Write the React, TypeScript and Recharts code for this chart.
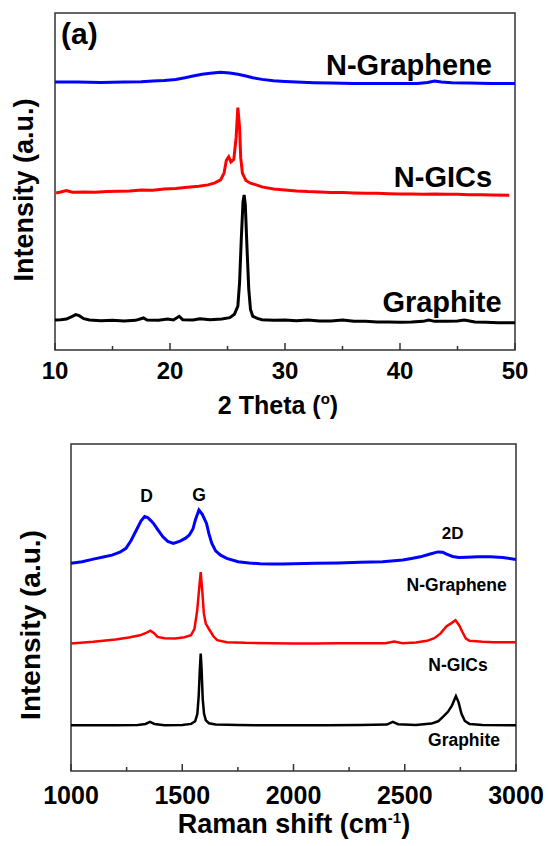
import { LineChart, Line, XAxis, YAxis, ReferenceArea } from "recharts";

// XRD patterns, [2theta, intensity a.u.]
const xrdGraphene: [number, number][] = [
  [10.0, 79.5], [12.0, 79.5], [14.0, 79.4], [16.0, 79.5], [17.5, 79.6], [18.5, 79.8],
  [19.5, 80.0], [20.5, 80.3], [21.3, 80.8], [22.0, 81.3], [22.8, 81.8], [23.5, 82.1],
  [24.4, 82.4], [25.2, 82.2], [25.9, 81.8], [26.6, 81.3], [27.2, 80.8], [28.0, 80.3],
  [29.0, 79.9], [30.0, 79.7], [31.0, 79.5], [32.5, 79.3], [34.0, 79.2], [36.0, 79.1],
  [38.0, 79.1], [40.0, 79.1], [41.5, 79.1], [42.4, 79.4], [43.0, 79.8], [43.6, 79.5],
  [44.5, 79.3], [46.0, 79.2], [48.0, 79.1], [50.0, 79.1],
];
const xrdGICs: [number, number][] = [
  [10.1, 46.6], [10.5, 46.9], [11.0, 47.3], [11.5, 46.8], [12.5, 46.9], [13.5, 46.8],
  [14.5, 47.0], [15.5, 47.1], [16.5, 47.2], [17.5, 47.5], [18.5, 47.4], [19.5, 47.8],
  [20.5, 47.9], [21.5, 48.3], [22.5, 48.6], [23.3, 49.0], [23.9, 49.6], [24.4, 50.5],
  [24.7, 52.5], [24.9, 56.3], [25.1, 57.3], [25.3, 55.8], [25.55, 56.6], [25.75, 63],
  [25.9, 71.9], [26.05, 66], [26.15, 57], [26.3, 52.4], [26.6, 50.3], [27.0, 49.5],
  [27.5, 49.0], [28.0, 48.4], [29.0, 47.8], [30.0, 47.5], [31.0, 47.2], [32.0, 47.0],
  [33.0, 46.9], [34.0, 46.7], [35.0, 46.7], [36.0, 46.6], [37.0, 46.5], [38.0, 46.5],
  [39.0, 46.4], [40.0, 46.3], [41.0, 46.3], [42.0, 46.2], [43.0, 46.3], [44.0, 46.2],
  [45.0, 46.2], [46.0, 46.1], [47.0, 46.1], [48.0, 46.0], [49.5, 45.9],
];
const xrdGraphite: [number, number][] = [
  [10.0, 8.9], [10.5, 9.0], [11.0, 9.2], [11.5, 10.0], [11.8, 10.5], [12.1, 10.2],
  [12.5, 9.3], [13.0, 8.9], [14.0, 8.7], [15.0, 8.8], [16.0, 8.6], [17.0, 8.8],
  [17.7, 9.5], [18.0, 8.9], [19.0, 8.8], [19.8, 9.2], [20.3, 8.9], [20.8, 10.0],
  [21.1, 9.0], [22.0, 8.9], [22.6, 9.3], [23.5, 9.0], [24.5, 9.2], [25.2, 9.6],
  [25.6, 10.6], [25.9, 13], [26.05, 20], [26.2, 33], [26.35, 44], [26.45, 46],
  [26.55, 43], [26.7, 30], [26.85, 18], [27.0, 12], [27.2, 10], [27.6, 9.4],
  [28.0, 9.0], [29.0, 8.8], [30.0, 8.9], [31.0, 8.7], [32.0, 8.9], [33.0, 8.6],
  [34.0, 8.6], [35.0, 8.9], [36.0, 8.5], [37.0, 8.5], [38.0, 8.3], [39.0, 8.3],
  [40.0, 8.2], [41.0, 8.3], [42.0, 8.5], [42.5, 8.9], [43.0, 8.5], [44.0, 8.5],
  [45.0, 8.6], [45.6, 8.9], [46.5, 8.3], [47.5, 8.2], [48.5, 8.1], [50.0, 8.1],
];

// Raman spectra, [shift cm-1, intensity a.u.]
const ramanGraphene: [number, number][] = [
  [1000, 63.5], [1050, 64.0], [1100, 64.8], [1150, 65.5], [1184, 66.0], [1220, 66.9],
  [1247, 68.1], [1270, 70.5], [1294, 73.7], [1315, 76.5], [1331, 77.8], [1345, 77.5],
  [1360, 76.5], [1373, 75.5], [1393, 73.5], [1413, 71.6], [1435, 70.2], [1460, 69.6],
  [1490, 70.3], [1515, 71.2], [1531, 72.1], [1548, 74.0], [1560, 77.0], [1575, 79.8],
  [1590, 78.5], [1609, 75.7], [1620, 72.5], [1633, 69.6], [1650, 67.3], [1672, 66.0],
  [1700, 65.0], [1751, 64.0], [1800, 63.6], [1850, 63.4], [1900, 63.3], [1950, 63.3],
  [2000, 63.4], [2100, 63.5], [2200, 63.6], [2300, 63.8], [2400, 64.0], [2491, 64.5],
  [2530, 65.0], [2570, 65.5], [2610, 66.3], [2649, 67.0], [2670, 66.9], [2688, 66.3],
  [2715, 65.6], [2743, 65.3], [2780, 65.4], [2830, 65.5], [2885, 65.5], [2940, 65.3],
  [3000, 64.7],
];
const ramanGICs: [number, number][] = [
  [1000, 39.0], [1100, 39.5], [1200, 40.2], [1260, 40.8], [1310, 41.5], [1340, 42.3],
  [1357, 42.9], [1372, 42.2], [1389, 41.0], [1420, 40.6], [1468, 40.5], [1510, 40.9],
  [1539, 41.5], [1555, 43.5], [1567, 49], [1575, 55], [1583, 60.8], [1590, 55],
  [1597, 48.2], [1606, 45], [1622, 43.2], [1640, 41.2], [1657, 40.0], [1700, 39.4],
  [1783, 39.2], [1900, 39.1], [2000, 39.0], [2100, 39.0], [2200, 39.1], [2300, 39.1],
  [2413, 39.1], [2452, 39.6], [2491, 39.1], [2550, 39.3], [2600, 39.8], [2633, 40.6],
  [2660, 42.0], [2688, 44.3], [2705, 45.0], [2728, 46.1], [2745, 44.5], [2759, 42.5],
  [2775, 40.5], [2791, 39.8], [2850, 39.5], [2900, 39.4], [3000, 39.4],
];
const ramanGraphite: [number, number][] = [
  [1000, 14.0], [1100, 14.0], [1200, 14.0], [1300, 14.1], [1335, 14.4], [1355, 15.0],
  [1375, 14.4], [1420, 14.0], [1500, 14.1], [1540, 14.4], [1558, 15.2], [1568, 17.5],
  [1574, 23], [1579, 31], [1583, 35.9], [1587, 31], [1592, 22], [1598, 17.5],
  [1606, 15.5], [1620, 14.6], [1650, 14.2], [1750, 14.1], [1850, 14.0], [2000, 14.0],
  [2150, 14.0], [2300, 14.1], [2420, 14.2], [2446, 15.0], [2470, 14.3], [2550, 14.1],
  [2620, 14.5], [2650, 15.2], [2675, 16.8], [2694, 18.1], [2712, 20.0], [2730, 22.9],
  [2742, 21.0], [2755, 17.5], [2770, 15.3], [2791, 14.4], [2850, 14.1], [3000, 14.0],
];

const xrdTicks = [10, 15, 20, 25, 30, 35, 40, 45, 50];
const xrdMajor = [10, 20, 30, 40, 50];
const ramanTicks = [1000, 1250, 1500, 1750, 2000, 2250, 2500, 2750, 3000];
const ramanMajor = [1000, 1500, 2000, 2500, 3000];

const FONT = "'Liberation Sans', Arial, sans-serif";
const FRAME = "#333";

const toPts = (arr: [number, number][]) => arr.map(([x, y]) => ({ x, y }));

// inward tick marks, labels only on the major ones
function InTick(props: any) {
  const { x, y, payload, majors, fontSize, dy } = props;
  const major = majors.includes(payload.value);
  return (
    <g>
      <line x1={x} x2={x} y1={y} y2={y - (major ? 7 : 4)} stroke={FRAME} strokeWidth={1.5} />
      {major && (
        <text x={x} y={y + dy} textAnchor="middle" fontFamily={FONT} fontWeight="bold" fontSize={fontSize} fill="#000">
          {payload.value}
        </text>
      )}
    </g>
  );
}

const lbl = (size: number) => ({ fontFamily: FONT, fontWeight: "bold" as const, fontSize: size, fill: "#000" });

export default function App() {
  return (
    <div style={{ position: "absolute", left: 0, top: 0, width: 549, height: 846, background: "#fff" }}>
      {/* (a) XRD */}
      <LineChart width={549} height={420} margin={{ top: 13, right: 34, left: 55, bottom: 0 }}>
        <XAxis
          type="number"
          dataKey="x"
          domain={[10, 50]}
          ticks={xrdTicks}
          interval={0}
          allowDataOverflow
          height={70}
          axisLine={false}
          tickLine={false}
          tickSize={0}
          tickMargin={0}
          tick={(p: any) => <InTick {...p} majors={xrdMajor} fontSize={24} dy={28.5} />}
        />
        <YAxis type="number" domain={[0, 100]} hide width={0} />
        <ReferenceArea x1={10} x2={50} y1={0} y2={100} fill="none" stroke={FRAME} strokeWidth={1.5} ifOverflow="visible" />
        <Line data={toPts(xrdGraphene)} dataKey="y" type="linear" dot={false} stroke="#0000ff" strokeWidth={3} isAnimationActive={false} />
        <Line data={toPts(xrdGICs)} dataKey="y" type="linear" dot={false} stroke="#ff0000" strokeWidth={3} isAnimationActive={false} />
        <Line data={toPts(xrdGraphite)} dataKey="y" type="linear" dot={false} stroke="#000" strokeWidth={3} isAnimationActive={false} />
        <text x={61} y={44} {...lbl(30)}>(a)</text>
        <text x={409} y={75} textAnchor="middle" {...lbl(29)}>N-Graphene</text>
        <text x={443} y={187} textAnchor="middle" {...lbl(29)}>N-GICs</text>
        <text x={442} y={312} textAnchor="middle" {...lbl(29)}>Graphite</text>
        <text x={278} y={414} textAnchor="middle" {...lbl(25)}>
          2 Theta (<tspan fontSize={15} dy={-10}>o</tspan><tspan dy={10}>)</tspan>
        </text>
        <text x={33} y={190} textAnchor="middle" transform="rotate(-90 33 190)" {...lbl(27)}>Intensity (a.u.)</text>
      </LineChart>

      {/* Raman */}
      <LineChart width={549} height={426} margin={{ top: 24, right: 33, left: 71, bottom: 0 }}>
        <XAxis
          type="number"
          dataKey="x"
          domain={[1000, 3000]}
          ticks={ramanTicks}
          interval={0}
          allowDataOverflow
          height={75}
          axisLine={false}
          tickLine={false}
          tickSize={0}
          tickMargin={0}
          tick={(p: any) => <InTick {...p} majors={ramanMajor} fontSize={25} dy={33} />}
        />
        <YAxis type="number" domain={[0, 100]} hide width={0} />
        <ReferenceArea x1={1000} x2={3000} y1={0} y2={100} fill="none" stroke={FRAME} strokeWidth={1.5} ifOverflow="visible" />
        <Line data={toPts(ramanGraphene)} dataKey="y" type="linear" dot={false} stroke="#0000ff" strokeWidth={3} isAnimationActive={false} />
        <Line data={toPts(ramanGICs)} dataKey="y" type="linear" dot={false} stroke="#ff0000" strokeWidth={2.5} isAnimationActive={false} />
        <Line data={toPts(ramanGraphite)} dataKey="y" type="linear" dot={false} stroke="#000" strokeWidth={2.5} isAnimationActive={false} />
        <text x={146.5} y={82} textAnchor="middle" {...lbl(17.5)}>D</text>
        <text x={199} y={80.5} textAnchor="middle" {...lbl(17.5)}>G</text>
        <text x={452.7} y={118.5} textAnchor="middle" {...lbl(17)}>2D</text>
        <text x={456.7} y={171} textAnchor="middle" {...lbl(17.5)}>N-Graphene</text>
        <text x={458} y={251} textAnchor="middle" {...lbl(17.5)}>N-GICs</text>
        <text x={464} y={326} textAnchor="middle" {...lbl(17.5)}>Graphite</text>
        <text x={294} y={413} textAnchor="middle" {...lbl(27)}>
          Raman shift (cm<tspan fontSize={15} dy={-10}>-1</tspan><tspan dy={10}>)</tspan>
        </text>
        <text x={40} y={205} textAnchor="middle" transform="rotate(-90 40 205)" {...lbl(28)}>Intensity (a.u.)</text>
      </LineChart>
    </div>
  );
}
